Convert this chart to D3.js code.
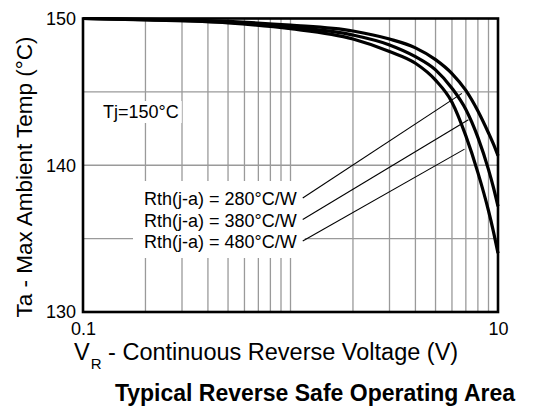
<!DOCTYPE html>
<html>
<head>
<meta charset="utf-8">
<script src="https://cdn.jsdelivr.net/npm/d3@7"></script>
<style>
  body { margin: 0; background: #fff; }
  svg { display: block; font-family: "Liberation Sans", Arial, Helvetica, sans-serif; }
</style>
</head>
<body>
<div id="chart"></div>
<script>
// ---- data ----
var vr = [0.1, 0.2, 0.5, 1, 2, 3, 4, 5, 6, 7, 8, 9, 9.5, 10];          // reverse voltage (V)
var ta280 = [150, 149.95, 149.8, 149.55, 149.15, 148.6, 148.0, 147.2, 146.25, 145.1, 143.7, 142.2, 141.45, 140.65];
var ta380 = [150, 149.93, 149.75, 149.42, 148.87, 148.2, 147.4, 146.5, 145.25, 143.8, 141.9, 139.7, 138.5, 137.2];
var ta480 = [150, 149.9, 149.7, 149.3, 148.6, 147.75, 146.95, 145.8, 144.3, 142.0, 139.5, 136.9, 135.5, 134.0];

var seriesNames = ["Rth(j-a) = 280°C/W", "Rth(j-a) = 380°C/W", "Rth(j-a) = 480°C/W"];
// where each leader line touches its curve (V, °C)
var leaderV = [6.7, 7.2, 6.9];
var leaderT = [144.9, 143.1, 141.1];

var yTicks = [130, 140, 150];
var yGrid = [135, 140, 145];
var xTicks = [0.1, 10];
var xGrid = [0.2, 0.3, 0.4, 0.5, 0.6, 0.7, 0.8, 0.9, 1, 2, 3, 4, 5, 6, 7, 8, 9];

// ---- layout ----
var width = 535, height = 410;
var plotLeft = 83, plotRight = 498, plotTop = 18.5, plotBottom = 312;

var svg = d3.select("#chart").append("svg")
    .attr("width", width)
    .attr("height", height);

var x = d3.scaleLog().domain([0.1, 10]).range([plotLeft, plotRight]);
var y = d3.scaleLinear().domain([130, 150]).range([plotBottom, plotTop]);

// grid
svg.append("g")
    .selectAll("line")
    .data(xGrid).enter()
    .append("line")
    .attr("x1", d => x(d)).attr("x2", d => x(d))
    .attr("y1", plotTop).attr("y2", plotBottom)
    .attr("stroke", "#9a9a9a").attr("stroke-width", 1.3);

svg.append("g")
    .selectAll("line")
    .data(yGrid).enter()
    .append("line")
    .attr("x1", plotLeft).attr("x2", plotRight)
    .attr("y1", d => y(d)).attr("y2", d => y(d))
    .attr("stroke", "#9a9a9a").attr("stroke-width", 1.3);

// text boxes sit on white so the grid is broken behind them
var notes = svg.append("g");

var tj = notes.append("text")
    .attr("x", 103).attr("y", 118)
    .attr("font-size", 18)
    .text("Tj=150°C");

var rthText = notes.selectAll("text.rth")
    .data(seriesNames).enter()
    .append("text")
    .attr("class", "rth")
    .attr("x", 144)
    .attr("y", (d, i) => 205 + i * 21.5)
    .attr("font-size", 18)
    .text(d => d);

var b1 = tj.node().getBBox();
notes.insert("rect", "text")
    .attr("x", b1.x - 3).attr("y", b1.y - 1)
    .attr("width", b1.width + 6).attr("height", b1.height + 2)
    .attr("fill", "#fff");

var rb = rthText.nodes().map(n => n.getBBox());
var rx0 = d3.min(rb, b => b.x), rx1 = d3.max(rb, b => b.x + b.width);
var ry0 = d3.min(rb, b => b.y), ry1 = d3.max(rb, b => b.y + b.height);
notes.insert("rect", "text")
    .attr("x", rx0 - 11).attr("y", ry0 - 8)
    .attr("width", rx1 - rx0 + 19).attr("height", ry1 - ry0 + 14)
    .attr("fill", "#fff");

// leader lines
svg.append("g")
    .selectAll("line")
    .data(rb).enter()
    .append("line")
    .attr("x1", b => b.x + b.width + 6)
    .attr("y1", b => b.y + b.height * 0.45)
    .attr("x2", (b, i) => x(leaderV[i]))
    .attr("y2", (b, i) => y(leaderT[i]))
    .attr("stroke", "#000").attr("stroke-width", 1.1);

// curves
var line = d3.line()
    .x(d => x(d[0]))
    .y(d => y(d[1]))
    .curve(d3.curveMonotoneX);

[ta280, ta380, ta480].forEach(function (ta) {
    svg.append("path")
        .datum(vr.map((v, i) => [v, ta[i]]))
        .attr("d", line)
        .attr("fill", "none")
        .attr("stroke", "#000")
        .attr("stroke-width", 3.2)
        .attr("stroke-linejoin", "round");
});

// frame
svg.append("rect")
    .attr("x", plotLeft).attr("y", plotTop)
    .attr("width", plotRight - plotLeft).attr("height", plotBottom - plotTop)
    .attr("fill", "none")
    .attr("stroke", "#000")
    .attr("stroke-width", 2.6);

// tick labels
var yAxis = svg.append("g")
    .attr("transform", "translate(" + plotLeft + ",0)")
    .call(d3.axisLeft(y).tickValues(yTicks).tickSize(0).tickPadding(7).tickFormat(d3.format("d")));
yAxis.select(".domain").remove();
yAxis.selectAll("text").attr("font-size", 18).attr("font-family", null).attr("fill", "#000");

var xAxis = svg.append("g")
    .attr("transform", "translate(0," + plotBottom + ")")
    .call(d3.axisBottom(x).tickValues(xTicks).tickSize(0).tickPadding(10).tickFormat(d => d));
xAxis.select(".domain").remove();
xAxis.selectAll("text").attr("font-size", 18).attr("font-family", null).attr("fill", "#000");

// axis titles
var xt = svg.append("text")
    .attr("x", 74).attr("y", 360)
    .attr("font-size", 23.5);
xt.append("tspan").text("V");
xt.append("tspan").attr("font-size", 15).attr("dy", 9).attr("dx", 1).text("R");
xt.append("tspan").attr("dy", -9).text(" - Continuous Reverse Voltage (V)");

svg.append("text")
    .attr("transform", "translate(32,177) rotate(-90)")
    .attr("text-anchor", "middle")
    .attr("font-size", 22.5)
    .text("Ta - Max Ambient Temp (°C)");

svg.append("text")
    .attr("x", 315).attr("y", 401)
    .attr("text-anchor", "middle")
    .attr("font-size", 23)
    .attr("font-weight", "bold")
    .text("Typical Reverse Safe Operating Area");
</script>
</body>
</html>
